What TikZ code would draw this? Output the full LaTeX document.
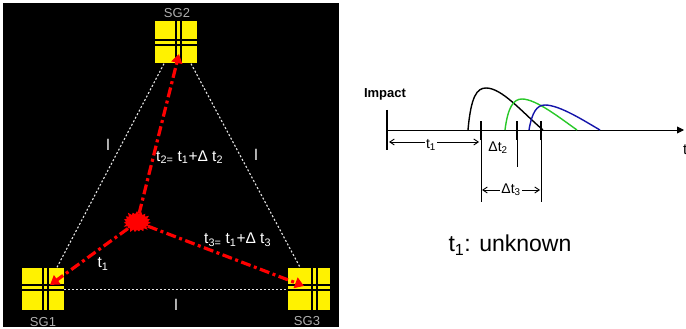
\documentclass[tikz,border=0pt]{standalone}
\usepackage{fontspec}
\setmainfont{Liberation Sans}
\usetikzlibrary{arrows.meta,shapes.symbols,calc}

\definecolor{sggray}{RGB}{175,175,175}
\definecolor{pgreen}{RGB}{40,200,40}
\definecolor{pblue}{RGB}{20,20,170}

\tikzset{
  % yellow sensor square with an off-centre double cross
  sgbox/.style 2 args={fill=yellow, minimum size=42pt, inner sep=0pt, draw=none,
    path picture={
      \foreach \d in {-2.5,2.5}{
        \draw[line width=1.3pt] ([xshift=#1+\d]path picture bounding box.north) -- ([xshift=#1+\d]path picture bounding box.south);
        \draw[line width=1.3pt] ([yshift=#2+\d]path picture bounding box.west) -- ([yshift=#2+\d]path picture bounding box.east);
      }}},
  sglabel/.style={text=sggray, font=\fontsize{13}{15}\selectfont, inner sep=0pt},
  whitelabel/.style={text=white, font=\fontsize{15.5}{18}\selectfont, inner sep=0pt},
  ruler/.style={white!90!black, line width=1.1pt, dash pattern=on 2pt off 2pt},
  wave/.style={red, line width=3.2pt, dash pattern=on 10pt off 3.5pt on 3pt off 3.5pt,
    -{Triangle[length=9pt,width=11pt]}},
  axis/.style={black, line width=0.9pt},
  tick/.style={black, line width=2.8pt},
  guide/.style={black, line width=0.7pt},
  dim/.style={black, line width=0.9pt, {Straight Barb[length=4.5pt,width=6pt]}-{Straight Barb[length=4.5pt,width=6pt]}},
  plabel/.style={font=\fontsize{14}{16}\selectfont, fill=white, inner sep=1pt},
  pulse/.style={line width=1.4pt},
}

\begin{document}
\begin{tikzpicture}[x=1pt,y=-1pt]
\useasboundingbox (0,0) rectangle (686,329);
\fill[white] (0,0) rectangle (686,329);

% ---------- left panel: sensor triangle ----------
\fill[black] (3,3) rectangle (339,327);

\node[sgbox={2.5}{0}] (sg2) at (176,42.5) {};
\node[sgbox={2.5}{1}] (sg1) at (43,288.5) {};
\node[sgbox={5.5}{1}] (sg3) at (309,288.5) {};

\node[sglabel] (l2) at (177,13) {SG2};
\node[sglabel] (l1) at (43,322) {SG1};
\node[sglabel] (l3) at (307,321) {SG3};

% sensor spacing (dotted sides of the triangle)
\draw[ruler] ([xshift=-12pt]sg2.south) -- ([xshift=14pt]sg1.north);
\draw[ruler] ([xshift=15pt]sg2.south) -- ([xshift=-9pt]sg3.north);
\draw[ruler] ([yshift=-1pt]sg1.east) -- ([yshift=-1pt]sg3.west);

\node[whitelabel] (d12) at (108,145) {l};
\node[whitelabel] (d23) at (256,155) {l};
\node[whitelabel] (d13) at (176,305) {l};

% impact point and wave paths
\coordinate (h2) at (179,54);
\coordinate (h1) at (50,285);
\coordinate (h3) at (304,286);
\pgfmathsetseed{11}
\node[starburst, fill=red, draw=none, minimum width=30pt, minimum height=24pt,
      starburst points=19, starburst point height=4pt, inner sep=0pt] (imp) at (137,222) {};
\draw[wave] (imp) -- (h2);
\draw[wave] (imp) -- (h1);
\draw[wave] (imp) -- (h3);

\node[whitelabel, anchor=west] (lt2) at (156,157) {t\textsubscript{2=} t\textsubscript{1}+Δ t\textsubscript{2}};
\node[whitelabel, anchor=west] (lt3) at (204,240) {t\textsubscript{3=} t\textsubscript{1}+Δ t\textsubscript{3}};
\node[whitelabel] (lt1) at (103,264) {t\textsubscript{1}};

% ---------- right panel: arrival times ----------
\coordinate (a0) at (387,130);
\coordinate (aend) at (684,130);
\draw[axis, -{Triangle[length=7pt,width=7pt]}] (a0) -- (aend);
\node[font=\fontsize{15}{17}\selectfont, anchor=west, inner sep=0pt] (tax) at (683,150) {t};

\node[font=\bfseries\fontsize{13}{15}\selectfont, inner sep=0pt] (imptxt) at (385,94) {Impact};
\coordinate (i0) at (387,110);
\coordinate (i1) at (387,150);
\draw[tick] (i0) -- (i1);

% arrival ticks
\coordinate (k1a) at (481,121); \coordinate (k1b) at (481,140); \coordinate (k1c) at (481,202);
\coordinate (k2a) at (517,121); \coordinate (k2b) at (517,140); \coordinate (k2c) at (517,167);
\coordinate (k3a) at (541,121); \coordinate (k3b) at (541,140); \coordinate (k3c) at (541,202);

% pulses
\draw[pulse, black] (468,130) .. controls (471,96) and (477,88) .. (486,88)
   .. controls (502,88) and (522,112) .. (543,130);
\draw[pulse, pgreen] (505,130) .. controls (508,106) and (514,99) .. (522,99)
   .. controls (536,99) and (560,118) .. (577,130);
\draw[pulse, pblue] (529,130) .. controls (532,112) and (537,105) .. (545,105)
   .. controls (560,105) and (586,122) .. (600,130);

\draw[guide] (k1b) -- (k1c);
\draw[guide] (k2b) -- (k2c);
\draw[guide] (k3b) -- (k3c);
\draw[tick] (k1a) -- (k1b);
\draw[tick] (k2a) -- (k2b);
\draw[tick] (k3a) -- (k3b);

% time differences
\coordinate (t1s) at (389,142);
\coordinate (t1e) at (479,142);
\draw[dim] (t1s) -- (t1e);
\node[plabel] (t1l) at (431,145) {t\textsubscript{1}};
\node[plabel] (dt2) at (498,148) {Δt\textsubscript{2}};
\coordinate (d3s) at (482,190);
\coordinate (d3e) at (540,190);
\draw[dim] (d3s) -- (d3e);
\node[plabel] (dt3) at (511,190) {Δt\textsubscript{3}};

\node[font=\fontsize{23}{26}\selectfont, inner sep=0pt] (unk) at (510,245) {t\textsubscript{1}: unknown};
\end{tikzpicture}
\end{document}
